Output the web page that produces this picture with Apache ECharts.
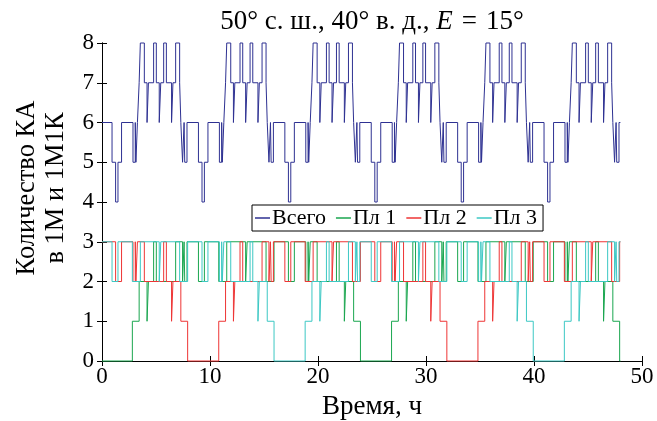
<!DOCTYPE html>
<html>
<head>
<meta charset="utf-8">
<script src="https://cdn.jsdelivr.net/npm/echarts@6/dist/echarts.min.js"></script>
<style>
  html, body { margin: 0; padding: 0; background: #fff; }
  #chart { width: 657px; height: 421px; }
</style>
</head>
<body>
<div id="chart"></div>
<script>
// Axis ticks
const xTicks = [0, 10, 20, 30, 40, 50];
const yTicks = [0, 1, 2, 3, 4, 5, 6, 7, 8];

// Step series: [hour, count from that hour onward]
const totalSteps = [
  [0,6],[0.93,5],[1.26,4],[1.48,5],[1.81,6],[2.87,5],[3.08,6],[3.14,5],[3.28,6],[3.44,7],[3.55,8],[3.92,7],[4.17,6],[4.30,7],[4.78,8],[5.03,7],[5.30,6],[5.44,7],[5.71,8],[5.96,7],[6.44,6],[6.57,7],[6.82,8],[7.19,7],[7.30,6],[7.46,5],[7.60,6],[7.66,5],[7.87,6],
  [8.93,5],[9.26,4],[9.48,5],[9.81,6],[10.87,5],[11.08,6],[11.14,5],[11.28,6],[11.44,7],[11.55,8],[11.92,7],[12.17,6],[12.30,7],[12.78,8],[13.03,7],[13.30,6],[13.44,7],[13.71,8],[13.96,7],[14.44,6],[14.57,7],[14.82,8],[15.19,7],[15.30,6],[15.46,5],[15.60,6],[15.66,5],[15.87,6],
  [16.93,5],[17.26,4],[17.48,5],[17.81,6],[18.87,5],[19.08,6],[19.14,5],[19.28,6],[19.44,7],[19.55,8],[19.92,7],[20.17,6],[20.30,7],[20.78,8],[21.03,7],[21.30,6],[21.44,7],[21.71,8],[21.96,7],[22.44,6],[22.57,7],[22.82,8],[23.19,7],[23.30,6],[23.46,5],[23.60,6],[23.66,5],[23.87,6],
  [24.93,5],[25.26,4],[25.48,5],[25.81,6],[26.87,5],[27.08,6],[27.14,5],[27.28,6],[27.44,7],[27.55,8],[27.92,7],[28.17,6],[28.30,7],[28.78,8],[29.03,7],[29.30,6],[29.44,7],[29.71,8],[29.96,7],[30.44,6],[30.57,7],[30.82,8],[31.19,7],[31.30,6],[31.46,5],[31.60,6],[31.66,5],[31.87,6],
  [32.93,5],[33.26,4],[33.48,5],[33.81,6],[34.87,5],[35.08,6],[35.14,5],[35.28,6],[35.44,7],[35.55,8],[35.92,7],[36.17,6],[36.30,7],[36.78,8],[37.03,7],[37.30,6],[37.44,7],[37.71,8],[37.96,7],[38.44,6],[38.57,7],[38.82,8],[39.19,7],[39.30,6],[39.46,5],[39.60,6],[39.66,5],[39.87,6],
  [40.93,5],[41.26,4],[41.48,5],[41.81,6],[42.87,5],[43.08,6],[43.14,5],[43.28,6],[43.44,7],[43.55,8],[43.92,7],[44.17,6],[44.30,7],[44.78,8],[45.03,7],[45.30,6],[45.44,7],[45.71,8],[45.96,7],[46.44,6],[46.57,7],[46.82,8],[47.19,7],[47.30,6],[47.46,5],[47.60,6],[47.66,5],[47.87,6],[48,6]
];

const plane1Steps = [
  [0,0],[2.81,1],[3.44,2],[4.17,1],[4.30,2],[4.78,3],[5.03,2],[6.82,3],[7.46,2],[7.60,3],[7.66,2],[7.87,3],[8.93,2],[9.48,3],[10.81,2],[11.55,3],[13.30,2],[13.44,3],[15.19,2],[15.93,3],[17.26,2],[17.81,3],[18.87,2],[19.08,3],[19.14,2],[19.28,3],[19.92,2],[21.71,3],[21.96,2],[22.44,1],[22.57,2],[23.30,1],[23.93,0],
  [26.81,1],[27.44,2],[28.17,1],[28.30,2],[28.78,3],[29.03,2],[30.82,3],[31.46,2],[31.60,3],[31.66,2],[31.87,3],[32.93,2],[33.48,3],[34.81,2],[35.55,3],[37.30,2],[37.44,3],[39.19,2],[39.93,3],[41.26,2],[41.81,3],[42.87,2],[43.08,3],[43.14,2],[43.28,3],[43.92,2],[45.71,3],[45.96,2],[46.44,1],[46.57,2],[47.30,1],[47.93,0],[48,0]
];

const plane2Steps = [
  [0,3],[1.26,2],[1.81,3],[2.87,2],[3.08,3],[3.14,2],[3.28,3],[3.92,2],[5.71,3],[5.96,2],[6.44,1],[6.57,2],[7.30,1],[7.93,0],
  [10.81,1],[11.44,2],[12.17,1],[12.30,2],[12.78,3],[13.03,2],[14.82,3],[15.46,2],[15.60,3],[15.66,2],[15.87,3],[16.93,2],[17.48,3],[18.81,2],[19.55,3],[21.30,2],[21.44,3],[23.19,2],[23.93,3],[25.26,2],[25.81,3],[26.87,2],[27.08,3],[27.14,2],[27.28,3],[27.92,2],[29.71,3],[29.96,2],[30.44,1],[30.57,2],[31.30,1],[31.93,0],
  [34.81,1],[35.44,2],[36.17,1],[36.30,2],[36.78,3],[37.03,2],[38.82,3],[39.46,2],[39.60,3],[39.66,2],[39.87,3],[40.93,2],[41.48,3],[42.81,2],[43.55,3],[45.30,2],[45.44,3],[47.19,2],[47.93,3],[48,3]
];

const plane3Steps = [
  [0,3],[0.93,2],[1.48,3],[2.81,2],[3.55,3],[5.30,2],[5.44,3],[7.19,2],[7.93,3],[9.26,2],[9.81,3],[10.87,2],[11.08,3],[11.14,2],[11.28,3],[11.92,2],[13.71,3],[13.96,2],[14.44,1],[14.57,2],[15.30,1],[15.93,0],
  [18.81,1],[19.44,2],[20.17,1],[20.30,2],[20.78,3],[21.03,2],[22.82,3],[23.46,2],[23.60,3],[23.66,2],[23.87,3],[24.93,2],[25.48,3],[26.81,2],[27.55,3],[29.30,2],[29.44,3],[31.19,2],[31.93,3],[33.26,2],[33.81,3],[34.87,2],[35.08,3],[35.14,2],[35.28,3],[35.92,2],[37.71,3],[37.96,2],[38.44,1],[38.57,2],[39.30,1],[39.93,0],
  [42.81,1],[43.44,2],[44.17,1],[44.30,2],[44.78,3],[45.03,2],[46.82,3],[47.46,2],[47.60,3],[47.66,2],[47.87,3],[48,3]
];

const seriesNames = ['Всего', 'Пл 1', 'Пл 2', 'Пл 3'];
const seriesColors = ['#2e3192', '#1aa64f', '#ee3535', '#3cc8c4'];
const seriesData = [totalSteps, plane1Steps, plane2Steps, plane3Steps];

const FONT = "'Liberation Serif', 'Times New Roman', serif";
const GRID = { left: 102, right: 15, top: 43, bottom: 60 };
const plotCenterX = GRID.left + (657 - GRID.left - GRID.right) / 2;

const chart = echarts.init(document.getElementById('chart'), null, { renderer: 'canvas' });

const axisBase = {
  type: 'value',
  axisLine: { show: true, lineStyle: { color: '#000', width: 1 } },
  axisTick: { show: true, inside: true, length: 5, lineStyle: { color: '#000', width: 1 } },
  splitLine: { show: false }
};

chart.setOption({
  animation: false,
  backgroundColor: '#fff',
  grid: GRID,
  xAxis: [
    Object.assign({}, axisBase, {
      position: 'bottom', min: xTicks[0], max: xTicks[xTicks.length - 1], interval: 10,
      axisLabel: { color: '#000', fontFamily: FONT, fontSize: 23, margin: 4 }
    }),
    Object.assign({}, axisBase, {
      position: 'top', min: xTicks[0], max: xTicks[xTicks.length - 1], interval: 10,
      axisLabel: { show: false }
    })
  ],
  yAxis: [
    Object.assign({}, axisBase, {
      position: 'left', min: yTicks[0], max: yTicks[yTicks.length - 1], interval: 1,
      axisLabel: { color: '#000', fontFamily: FONT, fontSize: 23, margin: 8 }
    }),
    Object.assign({}, axisBase, {
      position: 'right', min: yTicks[0], max: yTicks[yTicks.length - 1], interval: 1,
      axisLabel: { show: false }
    })
  ],
  legend: {
    left: 252, top: 205,
    backgroundColor: '#fff', borderColor: '#000', borderWidth: 1, borderRadius: 0,
    padding: [2, 6, 2, 3], itemGap: 10, itemWidth: 15, itemHeight: 1.5, icon: 'rect',
    textStyle: { color: '#000', fontFamily: FONT, fontSize: 22, padding: [0, 0, 0, -3] },
    data: seriesNames
  },
  series: seriesNames.map((name, i) => ({
    name: name,
    type: 'line',
    step: 'end',
    data: seriesData[i],
    showSymbol: false,
    symbol: 'none',
    clip: false,
    color: seriesColors[i],
    lineStyle: { color: seriesColors[i], width: 1 },
    emphasis: { disabled: true }
  })),
  graphic: [
    {
      type: 'text', x: plotCenterX, y: 22,
      style: {
        text: '{a|50° с. ш., 40° в. д., }{i|E}{a|\u2004=\u200415°}',
        align: 'center', verticalAlign: 'middle',
        rich: {
          a: { fontFamily: FONT, fontSize: 27, fill: '#000' },
          i: { fontFamily: FONT, fontSize: 27, fontStyle: 'italic', fill: '#000' }
        }
      }
    },
    {
      type: 'text', x: plotCenterX, y: 407,
      style: { text: 'Время, ч', font: '27px ' + FONT, fill: '#000', align: 'center', verticalAlign: 'middle' }
    },
    {
      type: 'text', x: 27, y: 188, rotation: Math.PI / 2,
      style: { text: 'Количество КА', font: '26.5px ' + FONT, fill: '#000', align: 'center', verticalAlign: 'middle' }
    },
    {
      type: 'text', x: 56, y: 188, rotation: Math.PI / 2,
      style: { text: 'в 1М и 1М1К', font: '26.5px ' + FONT, fill: '#000', align: 'center', verticalAlign: 'middle' }
    }
  ]
});
</script>
</body>
</html>
